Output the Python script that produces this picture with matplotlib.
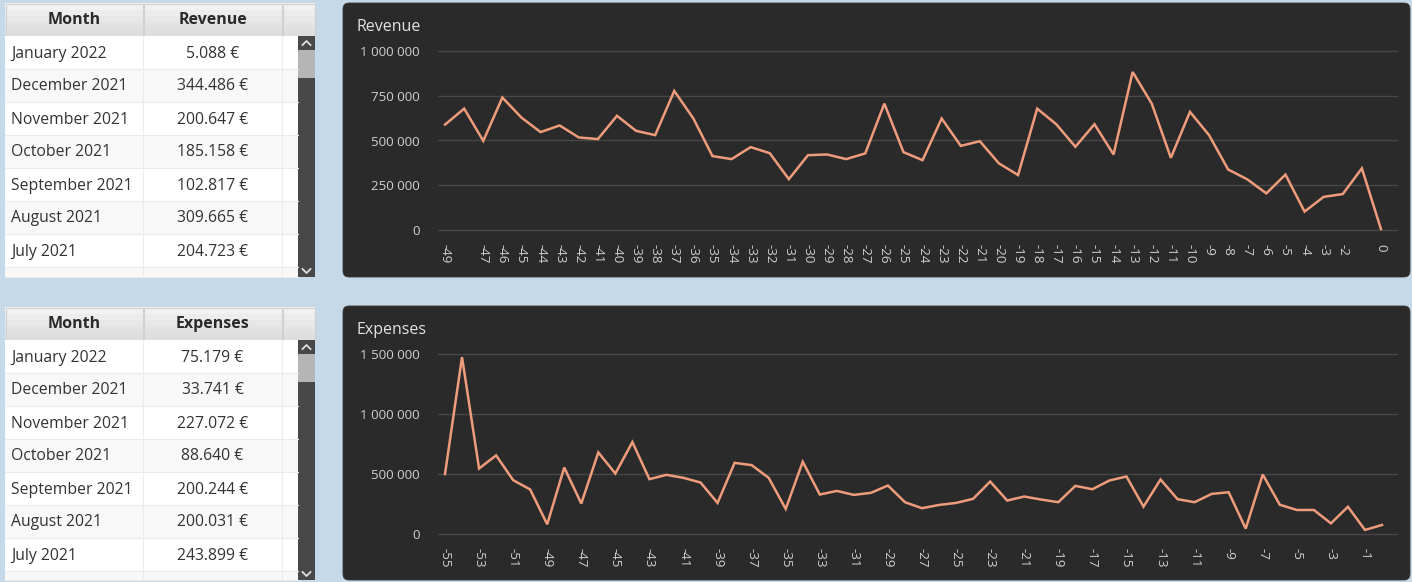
import matplotlib
matplotlib.use("Agg")
import matplotlib.pyplot as plt
from matplotlib.patches import Rectangle, FancyBboxPatch

plt.rcParams['font.family'] = ['Open Sans', 'DejaVu Sans']

# ---------------- data ----------------
revenue_x = list(range(-49, 1))
revenue = [589000, 678000, 498000, 740000, 628000, 547000, 584000, 517000, 508000, 638000,
           554000, 530000, 777000, 623000, 413000, 396000, 463000, 429000, 284000, 418000,
           422000, 396000, 428000, 706000, 435000, 390000, 623000, 470000, 496000, 372000,
           307000, 678000, 591000, 465000, 591000, 422000, 883000, 706000, 403000, 660000,
           530000, 338000, 283000, 204723, 309665, 102817, 185158, 200647, 344486, 5088]
revenue_xticks = [v for v in revenue_x if v not in (-48, -1)]
revenue_yticks = [0, 250000, 500000, 750000, 1000000]

expenses_x = list(range(-55, 1))
expenses = [499000, 1474000, 546000, 655000, 449000, 371000, 81000, 554000, 254000, 680000,
            504000, 766000, 457000, 493000, 468000, 429000, 259000, 593000, 574000, 468000,
            209000, 602000, 329000, 359000, 326000, 343000, 404000, 265000, 215000, 242000,
            259000, 293000, 437000, 279000, 312000, 287000, 265000, 401000, 373000, 446000,
            479000, 228000, 454000, 290000, 265000, 334000, 348000, 45000, 496000, 243899,
            200031, 200244, 88640, 227072, 33741, 75179]
expenses_xticks = list(range(-55, 0, 2))
expenses_yticks = [0, 500000, 1000000, 1500000]

table_months = ["January 2022", "December 2021", "November 2021", "October 2021",
                "September 2021", "August 2021", "July 2021"]

# ---------------- layout ----------------
W, H = 1412, 582
fig = plt.figure(figsize=(W / 100, H / 100), dpi=100)
fig.patch.set_facecolor('#c5d9e8')

bg = fig.add_axes([0, 0, 1, 1])
bg.set_xlim(0, W)
bg.set_ylim(H, 0)
bg.axis('off')

def fmt_eur(v):
    return f"{v:,.0f}".replace(',', '.') + " €"

def fmt_space(v):
    return f"{v:,.0f}".replace(',', ' ')

def draw_table(top, bottom, header, values):
    x0, c1, c2, c3, x1 = 5, 143, 282, 298, 315
    hh = 33
    # header (light vertical gradient)
    shades = ['#f1f1f1', '#ececec', '#e7e7e7', '#e2e2e2', '#dedede']
    for k, c in enumerate(shades):
        bg.add_patch(Rectangle((x0, top + k * hh / len(shades)), x1 - x0, hh / len(shades) + 0.5,
                               facecolor=c, edgecolor='none'))
    for xa, xb in ((x0, c1), (c1, c2), (c2, x1)):
        bg.add_patch(Rectangle((xa + 0.5, top + 0.5), xb - xa - 1, hh - 1,
                               facecolor='none', edgecolor='#d0d0d0', lw=0.8))
    bg.text((x0 + c1) / 2, top + hh / 2, "Month", ha='center', va='center',
            fontsize=11.5, fontweight='bold', color='#2a2a2a')
    bg.text((c1 + c2) / 2, top + hh / 2, header, ha='center', va='center',
            fontsize=11.5, fontweight='bold', color='#2a2a2a')
    # rows
    y = top + hh
    i = 0
    while y < bottom:
        h = min(hh, bottom - y)
        fc = '#ffffff' if i % 2 == 0 else '#f8f8f8'
        bg.add_patch(Rectangle((x0, y), c3 - x0, h, facecolor=fc, edgecolor='none'))
        bg.plot([x0, c3], [y + h, y + h], color='#ececec', lw=0.8)
        if i < len(values):
            bg.text(x0 + 6, y + hh / 2 + 1, table_months[i], ha='left', va='center',
                    fontsize=11.3, color='#333333')
            bg.text((c1 + c2) / 2, y + hh / 2 + 1, fmt_eur(values[i]), ha='center',
                    va='center', fontsize=11.3, color='#333333')
        y += hh
        i += 1
    for xc in (c1, c2):
        bg.plot([xc, xc], [top + hh, bottom], color='#ececec', lw=0.8)
    # scrollbar
    bg.add_patch(Rectangle((c3, top + hh), x1 - c3, bottom - top - hh,
                           facecolor='#484848', edgecolor='none'))
    bg.add_patch(Rectangle((c3, top + hh + 14), x1 - c3, 28,
                           facecolor='#b5b5b5', edgecolor='none'))
    cx = (c3 + x1) / 2
    ty = top + hh + 7
    bg.plot([cx - 4, cx, cx + 4], [ty + 2, ty - 2, ty + 2], color='#e0e0e0', lw=1.3)
    by = bottom - 6
    bg.plot([cx - 4, cx, cx + 4], [by - 2, by + 2, by - 2], color='#e0e0e0', lw=1.3)


rev_tab = revenue[::-1][:7]
exp_tab = expenses[::-1][:7]
draw_table(3, 277, "Revenue", rev_tab)
draw_table(307, 580, "Expenses", exp_tab)

# panels
for (py0, py1, title) in ((3, 277, "Revenue"), (306, 580, "Expenses")):
    bg.add_patch(FancyBboxPatch((343, py0), 1410 - 343, py1 - py0,
                                boxstyle="round,pad=0,rounding_size=6",
                                facecolor='#2a2a2a', edgecolor='#3a3a3a', lw=0.6))
    bg.text(357, py0 + 24, title, ha='left', va='center', fontsize=11.5, color='#e2e2e2')

line_color = '#ef9c7c'
grid_color = '#474747'
tick_color = '#cfcfcf'

def px_axes(x0, y0, x1, y1):
    return fig.add_axes([x0 / W, 1 - y1 / H, (x1 - x0) / W, (y1 - y0) / H])

def style(ax, xs, ys, yt, xt, xlim):
    ax.set_facecolor('none')
    ax.plot(xs, ys, color=line_color, lw=1.8, clip_on=False, solid_joinstyle='miter')
    ax.set_xlim(*xlim)
    ax.set_ylim(yt[0], yt[-1])
    ax.set_yticks(yt)
    ax.set_yticklabels([fmt_space(v) for v in yt])
    ax.set_xticks(xt)
    ax.set_xticklabels([str(v) for v in xt], rotation=-90)
    for s in ax.spines.values():
        s.set_visible(False)
    for v in yt:
        ax.axhline(v, color=grid_color, lw=1.0, zorder=0, clip_on=False)
    ax.tick_params(axis='y', length=0, pad=13, labelsize=9.6, labelcolor=tick_color)
    ax.tick_params(axis='x', length=0, pad=10, labelsize=9.6, labelcolor=tick_color)
    for lab in ax.get_xticklabels():
        lab.set_va('top')
        lab.set_ha('center')

ax1 = px_axes(438, 51, 1397, 230)
style(ax1, revenue_x, revenue, revenue_yticks, revenue_xticks, (-49.37, 0.84))

ax2 = px_axes(438, 354, 1397, 534)
style(ax2, expenses_x, expenses, expenses_yticks, expenses_xticks, (-55.41, 0.88))

fig.savefig("out.png", dpi=100, facecolor=fig.get_facecolor())
